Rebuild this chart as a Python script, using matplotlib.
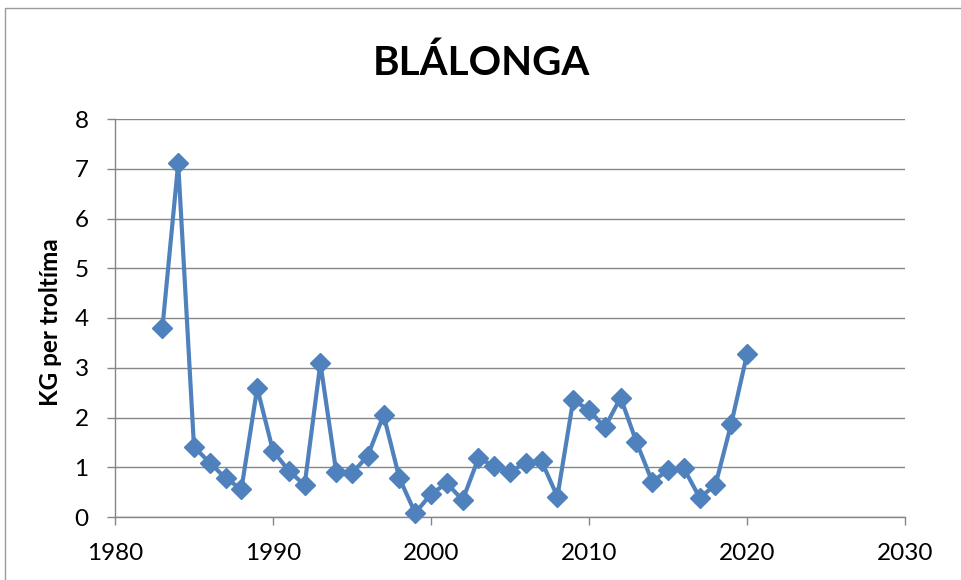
import matplotlib.pyplot as plt
from matplotlib.patches import Rectangle

# ── Data ──────────────────────────────────────────────────────────────────────
years = [1983, 1984, 1985, 1986, 1987, 1988, 1989, 1990, 1991, 1992,
         1993, 1994, 1995, 1996, 1997, 1998, 1999, 2000, 2001, 2002,
         2003, 2004, 2005, 2006, 2007, 2008, 2009, 2010, 2011, 2012,
         2013, 2014, 2015, 2016, 2017, 2018, 2019, 2020]
kg = [3.80, 7.11, 1.41, 1.09, 0.78, 0.56, 2.59, 1.33, 0.93, 0.64,
      3.09, 0.91, 0.88, 1.23, 2.05, 0.78, 0.08, 0.46, 0.68, 0.34,
      1.18, 1.03, 0.91, 1.09, 1.12, 0.41, 2.35, 2.15, 1.80, 2.40,
      1.51, 0.71, 0.94, 0.98, 0.39, 0.64, 1.87, 3.27]
x_ticks = [1980, 1990, 2000, 2010, 2020, 2030]
y_ticks = [0, 1, 2, 3, 4, 5, 6, 7, 8]

BLUE = "#4F81BD"
GRID = "#868686"
FONT = ["Lato", "DejaVu Sans"]

plt.rcParams["font.family"] = FONT

fig = plt.figure(figsize=(9.62, 5.80), dpi=100)

# chart-area border (only left/top visible in the reference)
fig.patches.append(Rectangle((5 / 962, -0.1), 1.2, 0.1 + 1 - 8 / 580,
                             transform=fig.transFigure, fill=False,
                             edgecolor="#9a9a9a", lw=1.0))

ax = fig.add_axes([115 / 962, 1 - 517 / 580, 790 / 962, 398 / 580])

ax.plot(years, kg, color=BLUE, lw=3.0, marker="D", markersize=10,
        markerfacecolor=BLUE, markeredgecolor=BLUE, zorder=3,
        clip_on=False)

ax.set_xlim(1980, 2030)
ax.set_ylim(0, 8)
ax.set_xticks(x_ticks)
ax.set_yticks(y_ticks)
ax.yaxis.grid(True, color=GRID, lw=1.0)
ax.set_axisbelow(True)

for s in ("top", "right"):
    ax.spines[s].set_visible(False)
for s in ("left", "bottom"):
    ax.spines[s].set_color(GRID)
    ax.spines[s].set_linewidth(1.0)

ax.tick_params(axis="both", colors=GRID, length=6, width=1.0,
               labelsize=17.5, labelcolor="black", pad=13)

fig.text(51 / 962, 1 - 322 / 580, "KG per troltíma", rotation=90,
         ha="center", va="center", fontsize=17.5, fontweight="bold")

fig.text(0.5, 1 - 63 / 580, "BLÁLONGA", ha="center", va="center",
         fontsize=29, fontweight="bold")

fig.savefig("out.png", dpi=100)
